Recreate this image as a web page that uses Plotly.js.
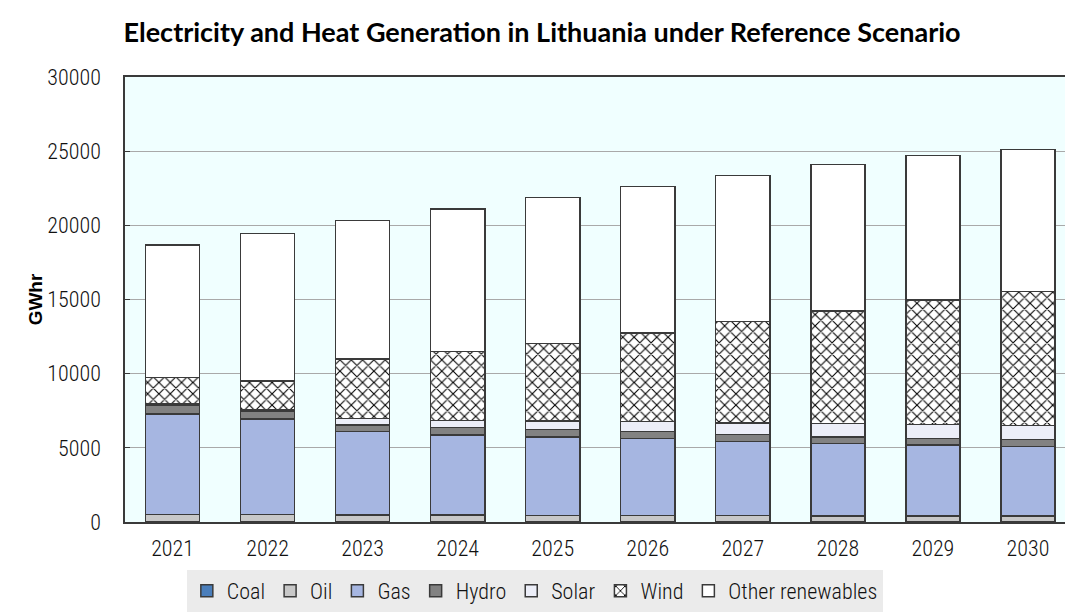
<!DOCTYPE html>
<html>
<head>
<meta charset="utf-8">
<script src="https://cdn.plot.ly/plotly-3.0.1.min.js"></script>
<style>html,body{margin:0;padding:0;background:#fff;}#chart{width:1065px;height:612px;}</style>
</head>
<body>
<div id="chart"></div>
<script>
const years = ["2021","2022","2023","2024","2025","2026","2027","2028","2029","2030"];
const coal  = [20, 20, 20, 20, 20, 20, 20, 20, 20, 20];
const oil   = [480, 470, 450, 440, 430, 420, 410, 400, 390, 380];
const gas   = [6790, 6470, 5620, 5410, 5280, 5200, 5010, 4870, 4790, 4690];
const hydro = [560, 520, 440, 490, 490, 470, 470, 440, 440, 470];
const solar = [100, 100, 450, 490, 580, 670, 780, 910, 940, 960];
const wind  = [1780, 1930, 4000, 4640, 5220, 5950, 6820, 7600, 8380, 9020];
const other = [8960, 9930, 9350, 9620, 9870, 9890, 9850, 9850, 9750, 9580];

const narrow = '"Liberation Sans Narrow", "Arial Narrow", "Roboto Condensed", Roboto, sans-serif';
const lineCol = '#3a3a3a';

function bar(name, y, color, extra) {
  const m = {color: color, line: {color: lineCol, width: 1.5}};
  if (extra) Object.assign(m, extra);
  return {type: 'bar', name: name, x: years, y: y, marker: m, hoverinfo: 'name+y'};
}

const data = [
  bar('Coal', coal, '#4a7ebb'),
  bar('Oil', oil, '#c8c8c8'),
  bar('Gas', gas, '#a6b6e1'),
  bar('Hydro', hydro, '#828282'),
  bar('Solar', solar, '#eceef8'),
  bar('Wind', wind, '#ffffff', {pattern: {shape: 'x', fgcolor: '#000000', bgcolor: '#ffffff', size: 8, solidity: 0.25}}),
  bar('Other renewables', other, '#ffffff')
];

const layout = {
  width: 1065, height: 612,
  margin: {l: 125, r: 0, t: 77, b: 85},
  paper_bgcolor: '#ffffff',
  plot_bgcolor: '#f0ffff',
  barmode: 'stack',
  bargap: 0.43,
  title: {
    text: 'Electricity and Heat Generation in Lithuania under Reference Scenario',
    font: {family: 'Lato, "Open Sans", sans-serif', size: 27, color: '#000000', weight: 'bold'},
    x: 0.509, xanchor: 'center', y: 0.946, yanchor: 'middle'
  },
  xaxis: {
    type: 'category',
    range: [-0.5, 9.39],
    showline: true, linecolor: lineCol, linewidth: 1.5, mirror: true,
    ticks: '', showgrid: false,
    tickfont: {family: narrow, size: 22, color: '#111111', weight: 300},
    ticklabelstandoff: 6
  },
  yaxis: {
    range: [0, 30000],
    dtick: 5000,
    tickformat: 'd',
    showline: true, linecolor: lineCol, linewidth: 1.5,
    showgrid: true, gridcolor: '#a9a9a9', gridwidth: 1,
    ticks: 'inside', ticklen: 5, tickcolor: lineCol,
    tickfont: {family: narrow, size: 22, color: '#111111', weight: 300},
    ticklabelstandoff: 18,
    zeroline: false,
    title: {text: 'GWhr', font: {family: '"Liberation Sans", Arial, sans-serif', size: 19, color: '#000000', weight: 'bold'}, standoff: 0}
  },
  showlegend: true,
  legend: {
    orientation: 'h',
    traceorder: 'normal',
    x: 0.436, xanchor: 'center',
    y: -0.108, yanchor: 'top',
    bgcolor: '#ebebeb',
    font: {family: narrow, size: 22, color: '#111111', weight: 300},
    itemwidth: 30,
    tracegroupgap: 0
  }
};

Plotly.newPlot('chart', data, layout, {displayModeBar: false, responsive: false});
</script>
</body>
</html>
